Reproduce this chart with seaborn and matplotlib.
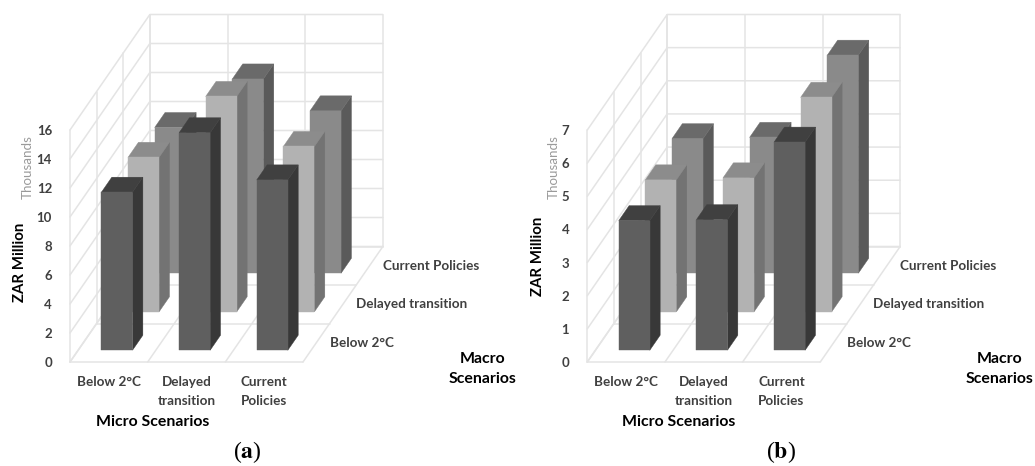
import matplotlib
matplotlib.use("Agg")
import matplotlib.pyplot as plt
import seaborn as sns

micro_scenarios = ["Below 2°C", "Delayed\ntransition", "Current\nPolicies"]
macro_scenarios = ["Below 2°C", "Delayed transition", "Current Policies"]

# values in thousands, one list per macro scenario
a_below = [10.9, 15.0, 11.75]
a_delayed = [10.65, 14.85, 11.4]
a_current = [10.05, 13.4, 11.2]

b_below = [3.91, 3.94, 6.28]
b_delayed = [3.98, 4.04, 6.47]
b_current = [4.06, 4.1, 6.58]

# front, side, top
row_colors = [("#5f5f5f", "#383838", "#404040"),
              ("#b2b2b2", "#737373", "#8c8c8c"),
              ("#8a8a8a", "#5a5a5a", "#6a6a6a")]
grid_color = "#e4e4e4"
label_color = "#404040"

sns.set_theme(style="white", font="Lato")
plt.rcParams["mathtext.fontset"] = "stix"

W, H = 1035, 466
DEPTH_X = 26.6 / 77.6   # x units per depth row
BAR_W = 0.4
BAR_D = 0.39


def draw_panel(left, values, ymax, step, tag, tag_x, ylab_xy, micro_xy, thou_xy, macro_xy):
    ax = plt.gcf().add_axes([left / W, (H - 362) / H, 233 / W, 232 / H])
    ax.set_xlim(0, 3)
    ax.set_ylim(0, ymax)
    ax.patch.set_visible(False)
    sns.despine(ax=ax, left=True, bottom=True)
    depth_y = 38.5 * ymax / 232   # y units per depth row

    def line(x, z, d, color=grid_color):
        ax.plot([a + b * DEPTH_X for a, b in zip(x, d)],
                [a + b * depth_y for a, b in zip(z, d)],
                color=color, lw=1.1, clip_on=False, zorder=1)

    # walls and floor
    ticks = list(range(0, ymax + 1, step))
    for z in ticks:
        line([0, 0, 3], [z, z, z], [0, 3, 3])
    for i in range(4):
        line([i, i], [0, 0], [0, 3])
        line([0, 3], [0, 0], [i, i])
        line([i, i], [0, ymax], [3, 3])
        line([0, 0], [0, ymax], [i, i])

    # back row first so the front bars cover it
    zo = 2
    for r in [2, 1, 0]:
        front, side, top = row_colors[r]
        d0 = r + 0.5 - BAR_D / 2
        d1 = d0 + BAR_D
        for c, v in enumerate(values[r]):
            x0 = c + 0.5 - BAR_W / 2
            x1 = x0 + BAR_W

            def poly(pts, color):
                ax.fill([p[0] + p[2] * DEPTH_X for p in pts],
                        [p[1] + p[2] * depth_y for p in pts],
                        color=color, lw=0.3, clip_on=False, zorder=zo)
            poly([(x1, 0, d0), (x1, 0, d1), (x1, v, d1), (x1, v, d0)], side)
            poly([(x0, v, d0), (x1, v, d0), (x1, v, d1), (x0, v, d1)], top)
            poly([(x0, 0, d0), (x1, 0, d0), (x1, v, d0), (x0, v, d0)], front)
        zo += 1

    # axis text
    ax.set_yticks(ticks)
    ax.set_yticklabels(ticks, fontsize=9.5, fontweight="bold", color=label_color)
    ax.set_xticks([0.5, 1.5, 2.5])
    ax.set_xticklabels(micro_scenarios, fontsize=9.7, fontweight="bold",
                       color=label_color, linespacing=1.7)
    ax.tick_params(axis="both", length=0)
    ax.tick_params(axis="y", pad=13)
    ax.tick_params(axis="x", pad=10)

    ax.set_ylabel("ZAR Million", fontsize=10.8, fontweight="bold", color="black")
    ax.yaxis.set_label_coords(ylab_xy[0], ylab_xy[1])
    ax.set_xlabel("Micro Scenarios", fontsize=11.4, fontweight="bold", color="black", va="center")
    ax.xaxis.set_label_coords(micro_xy[0], micro_xy[1])

    ax.text(thou_xy[0], thou_xy[1], "Thousands", transform=ax.transAxes, rotation=90,
            ha="center", va="center", fontsize=9.6, color="#9a9a9a")
    ax.text(macro_xy[0], macro_xy[1], "Macro\nScenarios", transform=ax.transAxes,
            ha="center", va="center", fontsize=11.4, fontweight="bold", color="black",
            linespacing=1.5)

    for r, name in enumerate(macro_scenarios):
        d = r + 0.5
        ax.annotate(name, xy=(3 + d * DEPTH_X, d * depth_y), xytext=(9.5, 0),
                    textcoords="offset points", ha="left", va="center",
                    fontsize=9.7, fontweight="bold", color=label_color, annotation_clip=False)

    plt.gcf().text(tag_x / W, (H - 452) / H, "(" + "$\\mathbf{" + tag + "}$" + ")",
                   ha="center", va="center", fontsize=17, family="Liberation Serif", color="black")


fig = plt.figure(figsize=(W / 100, H / 100), dpi=100)

draw_panel(70, [a_below, a_delayed, a_current], 16, 2, "a", 247,
           (-0.186, 0.43), (0.356, -0.258), (-0.18, 0.84), (1.77, -0.03))
draw_panel(587.3, [b_below, b_delayed, b_current], 7, 1, "b", 781,
           (-0.183, 0.456), (0.394, -0.258), (-0.145, 0.84), (1.77, -0.03))

fig.savefig("out.png", dpi=100, facecolor="white")
